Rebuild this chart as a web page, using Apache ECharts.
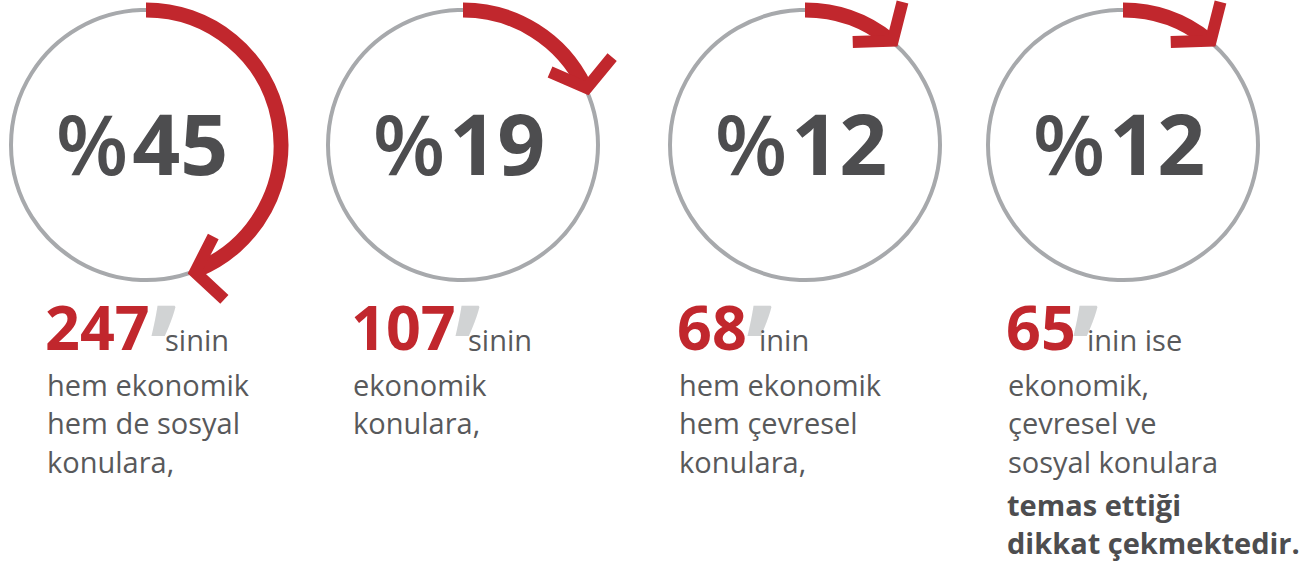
<!DOCTYPE html>
<html>
<head>
<meta charset="utf-8">
<title>Konu dağılımı</title>
<script src="https://cdn.jsdelivr.net/npm/echarts@6/dist/echarts.min.js"></script>
<style>
  html, body { margin: 0; padding: 0; background: #fff; }
  #chart { width: 1304px; height: 570px; }
</style>
</head>
<body>
<div id="chart"></div>
<script>
  // halkadaki kırmızı yay = yüzde
  var percents = [45, 19, 12, 12];
  // şirket sayıları
  var counts = [247, 107, 68, 65];
  var suffixes = ['sinin', 'sinin', 'inin', 'inin ise'];
  var bodyLines = [
    ['hem ekonomik', 'hem de sosyal', 'konulara,'],
    ['ekonomik', 'konulara,'],
    ['hem ekonomik', 'hem çevresel', 'konulara,'],
    ['ekonomik,', 'çevresel ve', 'sosyal konulara']
  ];
  var boldLines = [[], [], [], ['temas ettiği', 'dikkat çekmektedir.']];

  // yerleşim
  var centersX = [146, 463, 805, 1123];
  var centerY = 145;
  var ringR = 135;
  var numX = [45, 351, 677, 1006];
  var apoX = [153, 457, 749, 1075];
  var sufX = [165, 468, 759, 1087];

  var RED = '#c1272d';
  var DARK = '#4d4d4f';
  var GREY_TXT = '#58595b';
  var FONT = '"Open Sans", "Noto Sans", sans-serif';

  var chart = echarts.init(document.getElementById('chart'), null, {renderer: 'svg'});

  function renderArrow(params, api) {
    var cs = params.coordSys;
    var cx = cs.cx, cy = cs.cy;
    var v = api.value(1);
    var start = api.coord([1, 0]);
    var tip = api.coord([1, v]);
    var r = Math.sqrt((tip[0] - cx) * (tip[0] - cx) + (tip[1] - cy) * (tip[1] - cy));
    var a0 = Math.atan2(start[1] - cy, start[0] - cx);
    var a1 = Math.atan2(tip[1] - cy, tip[0] - cx);
    if (a1 < a0) a1 += Math.PI * 2;
    // ok yönü: teğet, biraz içe dönük
    var dir = a1 + Math.PI / 2 + 8 * Math.PI / 180;
    var tx = Math.cos(dir), ty = Math.sin(dir);
    var w = 12, L = 40, half = 53 * Math.PI / 180;
    var back = w / (2 * Math.sin(half));
    var vx = tip[0] - tx * back, vy = tip[1] - ty * back;
    function arm(sign) {
      var c = Math.cos(sign * half), s = Math.sin(sign * half);
      var bx = -tx, by = -ty;
      return [vx + L * (bx * c - by * s), vy + L * (bx * s + by * c)];
    }
    return {
      type: 'group',
      children: [
        {
          type: 'arc',
          shape: {cx: cx, cy: cy, r: r, startAngle: a0, endAngle: a1 - 10 / r, clockwise: true},
          style: {stroke: RED, lineWidth: 15, fill: 'none', lineCap: 'butt'}
        },
        {
          type: 'polyline',
          shape: {points: [arm(1), [vx, vy], arm(-1)]},
          style: {stroke: RED, lineWidth: 12, fill: 'none', lineJoin: 'miter', lineCap: 'butt'}
        },
        {
          type: 'text',
          x: cx - 4,
          y: cy - 3,
          style: {
            text: '{p|%}{n|' + v + '}',
            align: 'center',
            verticalAlign: 'middle',
            rich: {
              p: {fontSize: 84, fontWeight: 600, fontFamily: FONT, fill: DARK, padding: [0, 4, 0, 0]},
              n: {fontSize: 84, fontWeight: 'bold', fontFamily: FONT, fill: DARK}
            }
          }
        }
      ]
    };
  }

  var graphic = [];
  counts.forEach(function (n, i) {
    graphic.push({
      type: 'text', x: numX[i], y: 326,
      style: {text: String(n), fill: RED, fontSize: 61, fontWeight: 'bold', fontFamily: FONT, verticalAlign: 'middle'}
    });
    graphic.push({
      type: 'text', x: apoX[i] - 3, y: 345,
      style: {text: '\u2019', fill: '#d1d3d4', fontSize: 124, fontWeight: 'bold', fontFamily: FONT, verticalAlign: 'middle'}
    });
    graphic.push({
      type: 'text', x: sufX[i], y: 339,
      style: {text: suffixes[i], fill: GREY_TXT, fontSize: 29, fontFamily: FONT, verticalAlign: 'middle'}
    });
    bodyLines[i].forEach(function (t, j) {
      graphic.push({
        type: 'text', x: numX[i] + 2, y: 384 + j * 38.5,
        style: {text: t, fill: GREY_TXT, fontSize: 29, fontFamily: FONT, verticalAlign: 'middle'}
      });
    });
    boldLines[i].forEach(function (t, j) {
      graphic.push({
        type: 'text', x: numX[i] + 1, y: 504 + j * 38.5,
        style: {text: t, fill: DARK, fontSize: 29, fontWeight: 'bold', fontFamily: FONT, verticalAlign: 'middle'}
      });
    });
  });

  var option = {
    animation: false,
    polar: centersX.map(function (cx) {
      return {center: [cx, centerY], radius: [0, ringR]};
    }),
    angleAxis: centersX.map(function (cx, i) {
      return {
        polarIndex: i, type: 'value', min: 0, max: 100, startAngle: 90, clockwise: true,
        axisLine: {show: true, lineStyle: {color: '#a7a9ac', width: 4}},
        axisTick: {show: false}, axisLabel: {show: false}, splitLine: {show: false}
      };
    }),
    radiusAxis: centersX.map(function (cx, i) {
      return {
        polarIndex: i, type: 'value', min: 0, max: 1,
        axisLine: {show: false}, axisTick: {show: false}, axisLabel: {show: false}, splitLine: {show: false}
      };
    }),
    series: percents.map(function (p, i) {
      return {
        type: 'custom', coordinateSystem: 'polar', polarIndex: i, silent: true,
        data: [[1, p]],
        renderItem: renderArrow
      };
    }),
    graphic: graphic
  };

  chart.setOption(option);
</script>
</body>
</html>
